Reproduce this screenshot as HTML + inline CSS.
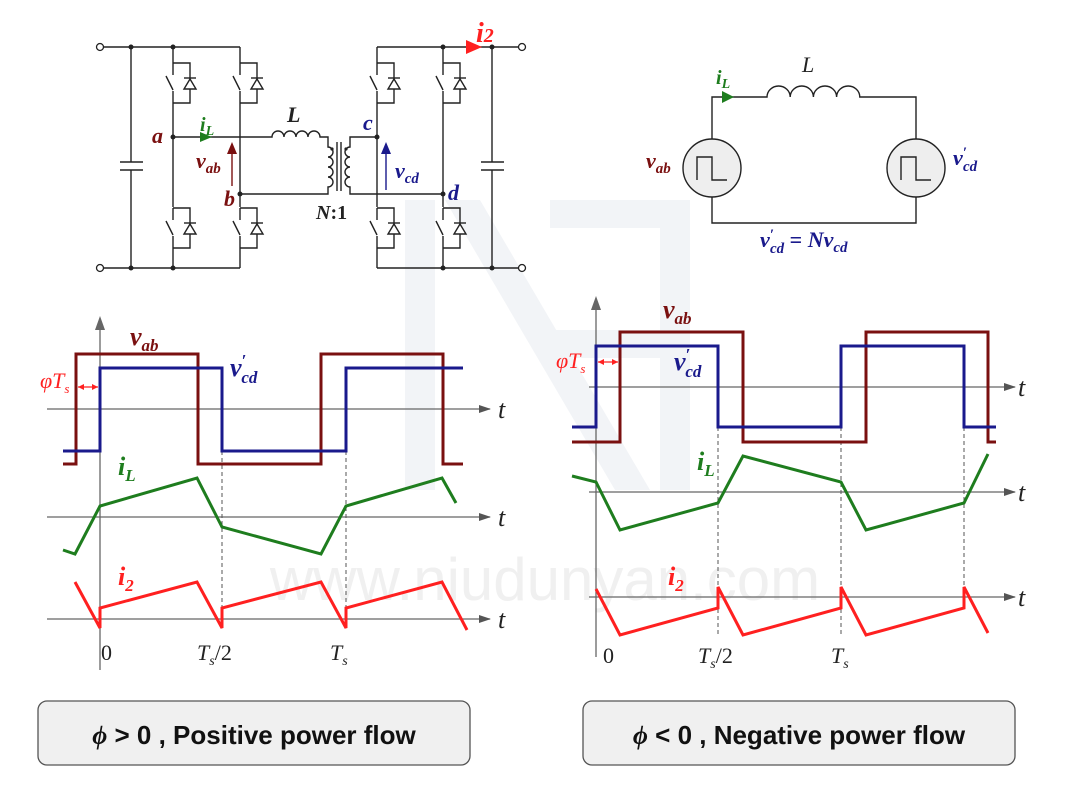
<!DOCTYPE html>
<html><head><meta charset="utf-8"><style>
body{margin:0;background:#fff}
svg{display:block}
.l{font-family:"Liberation Serif",serif;font-weight:bold;font-style:italic}
.n{font-family:"Liberation Serif",serif}
</style></head><body>
<svg width="1080" height="810" viewBox="0 0 1080 810" xmlns="http://www.w3.org/2000/svg">
<defs>
<g id="sw" fill="none" stroke="#222" stroke-width="1.4">
<path d="M0,0 V12 M0,28 V40 M0,0 H17 V40 H0 M-7,13 L0,27"/>
<path d="M11,26 H23 L17,16 Z" fill="#fff"/>
<path d="M11,15 H23"/>
</g>
<marker id="ah" markerWidth="12" markerHeight="8" refX="11" refY="4" orient="auto" markerUnits="userSpaceOnUse"><path d="M0,0 L12,4 L0,8 Z" fill="#555"/></marker>
</defs>

<!-- watermark -->
<g fill="#f2f4f7">
<rect x="405" y="200" width="30" height="290"/>
<polygon points="445,200 480,200 650,490 615,490"/>
<rect x="660" y="200" width="30" height="290"/>
<rect x="550" y="200" width="140" height="28"/>
<rect x="550" y="330" width="120" height="28"/>
</g>
<text x="545" y="600" text-anchor="middle" font-family="Liberation Sans,sans-serif" font-size="60" fill="#f0f0f0">www.niudunyan.com</text>

<!-- circuit -->
<g fill="none" stroke="#222" stroke-width="1.4">
<path d="M104,47 H240 M104,268 H240 M131,47 V162 M131,170 V268 M120,162 H143 M120,170 H143"/>
<path d="M173,47 V63 M173,103 V207 M173,248 V268 M240,47 V63 M240,103 V207 M240,248 V268"/>
<path d="M377,47 H518 M377,268 H518 M492,47 V162 M492,170 V268 M481,162 H504 M481,170 H504"/>
<path d="M377,47 V63 M377,103 V207 M377,248 V268 M443,47 V63 M443,103 V207 M443,248 V268"/>
<path d="M173,137 H272 a6,6 0 0 1 12,0 a6,6 0 0 1 12,0 a6,6 0 0 1 12,0 a6,6 0 0 1 12,0 H328 V147 a5,5 0 0 1 0,10 a5,5 0 0 1 0,10 a5,5 0 0 1 0,10 a5,5 0 0 1 0,10 V194 H240"/>
<path d="M377,137 H350 V147 a5,5 0 0 0 0,10 a5,5 0 0 0 0,10 a5,5 0 0 0 0,10 a5,5 0 0 0 0,10 V194 H443"/>
<path d="M337,142 V191 M341,142 V191"/>
</g>
<circle cx="100" cy="47" r="3.5" fill="#fff" stroke="#222" stroke-width="1.3"/>
<circle cx="100" cy="268" r="3.5" fill="#fff" stroke="#222" stroke-width="1.3"/>
<circle cx="522" cy="47" r="3.5" fill="#fff" stroke="#222" stroke-width="1.3"/>
<circle cx="522" cy="268" r="3.5" fill="#fff" stroke="#222" stroke-width="1.3"/>
<g fill="#222">
<circle cx="131" cy="47" r="2.5"/><circle cx="131" cy="268" r="2.5"/><circle cx="173" cy="47" r="2.5"/><circle cx="173" cy="268" r="2.5"/>
<circle cx="173" cy="137" r="2.5"/><circle cx="240" cy="194" r="2.5"/><circle cx="377" cy="137" r="2.5"/><circle cx="443" cy="194" r="2.5"/>
<circle cx="443" cy="47" r="2.5"/><circle cx="443" cy="268" r="2.5"/><circle cx="492" cy="47" r="2.5"/><circle cx="492" cy="268" r="2.5"/>
<circle cx="332" cy="149" r="1.6"/><circle cx="346" cy="149" r="1.6"/>
</g>
<use href="#sw" x="173" y="63"/><use href="#sw" x="240" y="63"/><use href="#sw" x="173" y="208"/><use href="#sw" x="240" y="208"/>
<use href="#sw" x="377" y="63"/><use href="#sw" x="443" y="63"/><use href="#sw" x="377" y="208"/><use href="#sw" x="443" y="208"/>
<polygon points="200,132 212,137 200,142" fill="#1e7d1e"/>
<path d="M232,186 V152" stroke="#7a1010" stroke-width="1.4"/><polygon points="227,154 232,142 237,154" fill="#7a1010"/>
<path d="M386,190 V152" stroke="#1a1a8c" stroke-width="1.4"/><polygon points="381,154 386,142 391,154" fill="#1a1a8c"/>
<polygon points="466,40 482,47 466,54" fill="#ff2020"/>
<text class="l" x="476" y="42" font-size="28" fill="#ff2020">i<tspan font-size="20" dy="0">2</tspan></text>
<text class="l" x="200" y="131" font-size="20" fill="#1e7d1e">i<tspan font-size="14" dy="4">L</tspan></text>
<text class="l" x="287" y="122" font-size="22" fill="#222">L</text>
<text class="l" x="152" y="143" font-size="22" fill="#7a1010">a</text>
<text class="l" x="224" y="206" font-size="22" fill="#7a1010">b</text>
<text class="l" x="196" y="168" font-size="22" fill="#7a1010">v<tspan font-size="15" dy="5">ab</tspan></text>
<text class="l" x="363" y="130" font-size="22" fill="#1a1a8c">c</text>
<text class="l" x="448" y="200" font-size="22" fill="#1a1a8c">d</text>
<text class="l" x="395" y="178" font-size="22" fill="#1a1a8c">v<tspan font-size="15" dy="5">cd</tspan></text>
<text class="l" x="316" y="219" font-size="20" fill="#222">N<tspan font-style="normal">:1</tspan></text>

<!-- equivalent circuit -->
<g fill="none" stroke="#222" stroke-width="1.4">
<path d="M712,139 V97 H767 a11.6,11 0 0 1 23.2,0 a11.6,11 0 0 1 23.2,0 a11.6,11 0 0 1 23.2,0 a11.6,11 0 0 1 23.2,0 H916 V139 M712,197 V223 H916 V197"/>
<circle cx="712" cy="168" r="29" fill="#eeeeee"/><circle cx="916" cy="168" r="29" fill="#eeeeee"/>
<path d="M697,180 V157 H712 V180 H727 M901,180 V157 H916 V180 H931"/>
</g>
<polygon points="722,91 734,97 722,103" fill="#1e7d1e"/>
<text class="l" x="716" y="84" font-size="20" fill="#1e7d1e">i<tspan font-size="14" dy="4">L</tspan></text>
<text class="n" x="802" y="72" font-size="22" font-style="italic" fill="#222">L</text>
<text class="l" x="646" y="168" font-size="22" fill="#7a1010">v<tspan font-size="15" dy="5">ab</tspan></text>
<text class="l" x="953" y="165" font-size="22" fill="#1a1a8c">v<tspan font-size="15" dy="-8">′</tspan><tspan font-size="15" dx="-4" dy="14">cd</tspan></text>
<text class="l" x="760" y="247" font-size="22" fill="#1a1a8c">v<tspan font-size="15" dy="-8">′</tspan><tspan font-size="15" dx="-4" dy="14">cd</tspan><tspan font-style="normal" dy="-6"> = </tspan>Nv<tspan font-size="15" dy="5">cd</tspan></text>

<!-- left waveforms -->
<g fill="none" stroke="#666" stroke-width="1.3">
<path d="M100,670 V322"/>
<path d="M47,409 H490" marker-end="url(#ah)"/>
<path d="M47,517 H490" marker-end="url(#ah)"/>
<path d="M47,619 H490" marker-end="url(#ah)"/>
</g>
<polygon points="95,330 100,316 105,330" fill="#666"/>
<g stroke="#555" stroke-width="1" stroke-dasharray="4,3"><path d="M222,451 V628 M346,451 V628"/></g>
<path d="M63,464 H76 V354 H198 V464 H321 V354 H443 V464 H463" fill="none" stroke="#7a1010" stroke-width="3"/>
<path d="M63,451 H100 V368 H222 V451 H346 V368 H463" fill="none" stroke="#1a1a8c" stroke-width="3"/>
<path d="M63,550 L75,554 L100,506 L197,478 L222,527 L321,554 L346,506 L442,478 L456,503" fill="none" stroke="#1e7d1e" stroke-width="3"/>
<path d="M75,582 L100,628 L100,608 L197,582 L222,628 L222,608 L321,582 L346,628 L346,608 L442,582 L467,630" fill="none" stroke="#ff2020" stroke-width="3"/>
<text class="n" x="498" y="418" font-size="26" font-style="italic" fill="#222">t</text>
<text class="n" x="498" y="526" font-size="26" font-style="italic" fill="#222">t</text>
<text class="n" x="498" y="628" font-size="26" font-style="italic" fill="#222">t</text>
<text class="l" x="130" y="345" font-size="26" fill="#7a1010">v<tspan font-size="17" dy="6">ab</tspan></text>
<text class="l" x="230" y="376" font-size="26" fill="#1a1a8c">v<tspan font-size="17" dy="-10">′</tspan><tspan font-size="17" dx="-5" dy="17">cd</tspan></text>
<text class="n" x="40" y="388" font-size="22" font-style="italic" fill="#ff2020">φT<tspan font-size="13" dy="5">s</tspan></text>
<path d="M78,387 H98" stroke="#ff2020" stroke-width="1.3"/><polygon points="78,387 84,384 84,390" fill="#ff2020"/><polygon points="98,387 92,384 92,390" fill="#ff2020"/>
<text class="l" x="118" y="475" font-size="26" fill="#1e7d1e">i<tspan font-size="17" dy="6">L</tspan></text>
<text class="l" x="118" y="585" font-size="26" fill="#ff2020">i<tspan font-size="17" dy="6">2</tspan></text>
<text class="n" x="101" y="660" font-size="22" fill="#222">0</text>
<text class="n" x="197" y="660" font-size="22" font-style="italic" fill="#222">T<tspan font-size="14" dy="5">s</tspan><tspan font-style="normal" dy="-5">/2</tspan></text>
<text class="n" x="330" y="660" font-size="22" font-style="italic" fill="#222">T<tspan font-size="14" dy="5">s</tspan></text>

<!-- right waveforms -->
<g fill="none" stroke="#666" stroke-width="1.3">
<path d="M596,657 V302"/>
<path d="M589,387 H1015" marker-end="url(#ah)"/>
<path d="M589,492 H1015" marker-end="url(#ah)"/>
<path d="M589,597 H1015" marker-end="url(#ah)"/>
</g>
<polygon points="591,310 596,296 601,310" fill="#666"/>
<g stroke="#555" stroke-width="1" stroke-dasharray="4,3"><path d="M718,427 V635 M841,427 V635 M964,427 V590"/></g>
<path d="M572,442 H620 V332 H743 V442 H866 V332 H988 V442 H996" fill="none" stroke="#7a1010" stroke-width="3"/>
<path d="M572,427 H596 V346 H718 V427 H841 V346 H964 V427 H996" fill="none" stroke="#1a1a8c" stroke-width="3"/>
<path d="M572,476 L596,482 L620,530 L718,503 L743,456 L841,482 L866,530 L964,503 L988,454" fill="none" stroke="#1e7d1e" stroke-width="3"/>
<path d="M596,589 L620,635 L718,608 L718,587 L743,635 L841,608 L841,587 L866,635 L964,608 L964,587 L988,633" fill="none" stroke="#ff2020" stroke-width="3"/>
<text class="n" x="1018" y="396" font-size="26" font-style="italic" fill="#222">t</text>
<text class="n" x="1018" y="501" font-size="26" font-style="italic" fill="#222">t</text>
<text class="n" x="1018" y="606" font-size="26" font-style="italic" fill="#222">t</text>
<text class="l" x="663" y="318" font-size="26" fill="#7a1010">v<tspan font-size="17" dy="6">ab</tspan></text>
<text class="l" x="674" y="370" font-size="26" fill="#1a1a8c">v<tspan font-size="17" dy="-10">′</tspan><tspan font-size="17" dx="-5" dy="17">cd</tspan></text>
<text class="n" x="556" y="368" font-size="22" font-style="italic" fill="#ff2020">φT<tspan font-size="13" dy="5">s</tspan></text>
<path d="M598,362 H618" stroke="#ff2020" stroke-width="1.3"/><polygon points="598,362 604,359 604,365" fill="#ff2020"/><polygon points="618,362 612,359 612,365" fill="#ff2020"/>
<text class="l" x="697" y="470" font-size="26" fill="#1e7d1e">i<tspan font-size="17" dy="6">L</tspan></text>
<text class="l" x="668" y="585" font-size="26" fill="#ff2020">i<tspan font-size="17" dy="6">2</tspan></text>
<text class="n" x="603" y="663" font-size="22" fill="#222">0</text>
<text class="n" x="698" y="663" font-size="22" font-style="italic" fill="#222">T<tspan font-size="14" dy="5">s</tspan><tspan font-style="normal" dy="-5">/2</tspan></text>
<text class="n" x="831" y="663" font-size="22" font-style="italic" fill="#222">T<tspan font-size="14" dy="5">s</tspan></text>

<!-- captions -->
<rect x="38" y="701" width="432" height="64" rx="9" fill="#f0f0f0" stroke="#555" stroke-width="1.3"/>
<rect x="583" y="701" width="432" height="64" rx="9" fill="#f0f0f0" stroke="#555" stroke-width="1.3"/>
<text x="254" y="744" text-anchor="middle" font-family="Liberation Sans,sans-serif" font-weight="bold" font-size="26" fill="#111"><tspan font-family="Liberation Serif,serif" font-style="italic">ϕ</tspan> &gt; 0 , Positive power flow</text>
<text x="799" y="744" text-anchor="middle" font-family="Liberation Sans,sans-serif" font-weight="bold" font-size="26" fill="#111"><tspan font-family="Liberation Serif,serif" font-style="italic">ϕ</tspan> &lt; 0 , Negative power flow</text>
</svg>
</body></html>
